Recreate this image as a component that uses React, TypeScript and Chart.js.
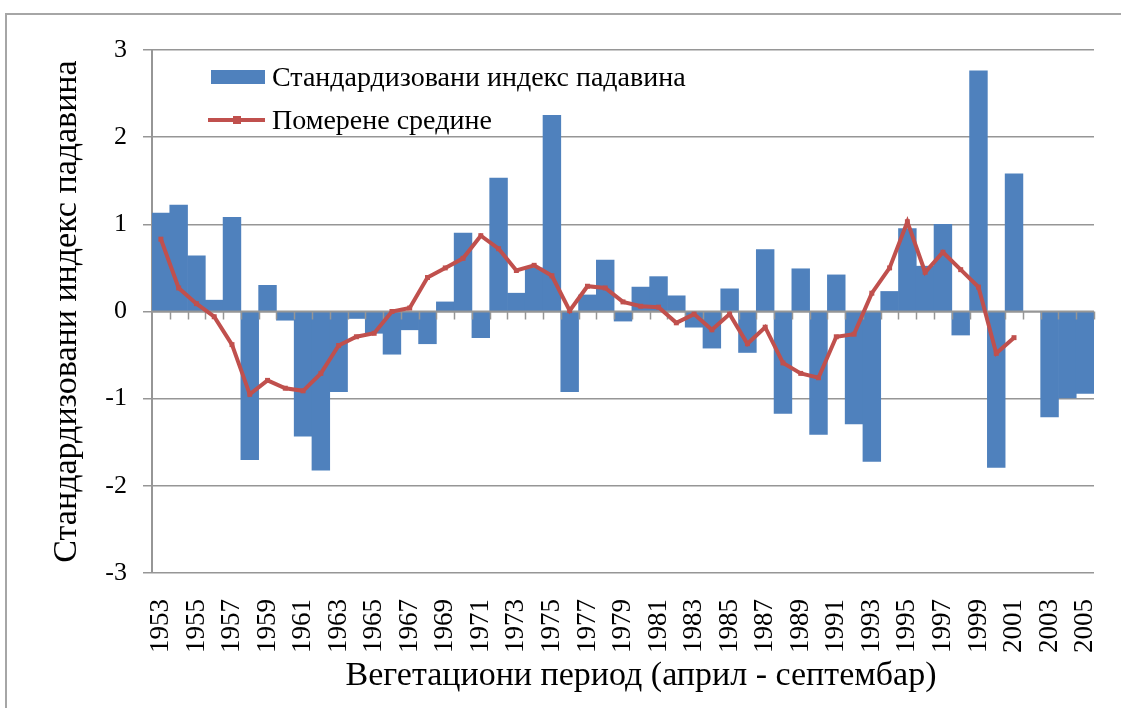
import React, { useEffect, useRef } from "react";
import { Chart, registerables } from "chart.js";

Chart.register(...registerables);

const years: string[] = [
  "1953","1954","1955","1956","1957","1958","1959","1960","1961","1962",
  "1963","1964","1965","1966","1967","1968","1969","1970","1971","1972",
  "1973","1974","1975","1976","1977","1978","1979","1980","1981","1982",
  "1983","1984","1985","1986","1987","1988","1989","1990","1991","1992",
  "1993","1994","1995","1996","1997","1998","1999","2000","2001","2002",
  "2003","2004","2005",
];

const spiValues: (number | null)[] = [
  1.13, 1.22, 0.64, 0.13, 1.08, -1.70, 0.30, -0.10, -1.43, -1.82,
  -0.92, -0.08, -0.25, -0.49, -0.21, -0.37, 0.11, 0.90, -0.30, 1.53,
  0.21, 0.50, 2.25, -0.92, 0.19, 0.59, -0.11, 0.28, 0.40, 0.18,
  -0.18, -0.42, 0.26, -0.47, 0.71, -1.17, 0.49, -1.41, 0.42, -1.29,
  -1.72, 0.23, 0.95, 0.52, 1.00, -0.27, 2.76, -1.79, 1.58, null,
  -1.21, -0.99, -0.94,
];

const movingAvg: (number | null)[] = [
  0.83, 0.27, 0.09, -0.06, -0.38, -0.95, -0.79, -0.88, -0.91, -0.71,
  -0.39, -0.29, -0.25, 0.0, 0.04, 0.39, 0.50, 0.61, 0.87, 0.72,
  0.47, 0.53, 0.41, 0.01, 0.29, 0.27, 0.11, 0.06, 0.05, -0.13,
  -0.03, -0.21, -0.03, -0.37, -0.18, -0.59, -0.71, -0.76, -0.29, -0.26,
  0.21, 0.50, 1.03, 0.45, 0.68, 0.48, 0.28, -0.48, -0.30, null,
  null, null, null,
];

const yTicks: number[] = [-3, -2, -1, 0, 1, 2, 3];

const barLabel = "Стандардизовани индекс падавина";
const lineLabel = "Померене средине";
const yTitle = "Стандардизовани индекс падавина";
const xTitle = "Вегетациони период (април - септембар)";

const FONT = "'Liberation Serif', 'Times New Roman', serif";
const BLUE = "#4f81bd";
const RED = "#c0504d";
const GRID = "#969696";

const zeroAxisPlugin = {
  id: "zeroAxis",
  afterDatasetDraw(chart: any, args: any) {
    const ds = chart.data.datasets[args.index];
    if (ds.type !== "bar") return;
    const { ctx } = chart;
    const xs = chart.scales.x;
    const ys = chart.scales.y;
    const y0 = ys.getPixelForValue(0);
    const n = chart.data.labels.length;
    const step = (xs.right - xs.left) / n;
    ctx.save();
    ctx.strokeStyle = GRID;
    ctx.lineWidth = 2;
    ctx.beginPath();
    ctx.moveTo(xs.left, y0);
    ctx.lineTo(xs.right, y0);
    ctx.stroke();
    ctx.lineWidth = 1.5;
    ctx.beginPath();
    for (let i = 1; i <= n; i++) {
      const px = Math.round(xs.left + i * step) + 0.5;
      ctx.moveTo(px, y0);
      ctx.lineTo(px, y0 + 8);
    }
    ctx.stroke();
    ctx.restore();
  },
};

// x-axis title drawn slightly right of the plot centre, as in the reference
const xTitlePlugin = {
  id: "xTitleShift",
  afterDraw(chart: any) {
    const { ctx } = chart;
    const xs = chart.scales.x;
    ctx.save();
    ctx.font = `34px ${FONT}`;
    ctx.fillStyle = "#000";
    ctx.textAlign = "center";
    ctx.textBaseline = "middle";
    ctx.fillText(xTitle, (xs.left + xs.right) / 2 + 18, xs.bottom - 32);
    ctx.restore();
  },
};

export default function App() {
  const ref = useRef<HTMLCanvasElement | null>(null);

  useEffect(() => {
    if (!ref.current) return;
    const chart = new Chart(ref.current, {
      type: "bar",
      data: {
        labels: years,
        datasets: [
          {
            type: "bar",
            label: barLabel,
            data: spiValues,
            backgroundColor: BLUE,
            borderWidth: 0,
            barPercentage: 1,
            categoryPercentage: 1,
            order: 2,
          } as any,
          {
            type: "line",
            label: lineLabel,
            data: movingAvg,
            borderColor: RED,
            backgroundColor: RED,
            borderWidth: 4,
            pointStyle: "rect",
            pointRadius: 3.5,
            pointBorderWidth: 0,
            tension: 0,
            spanGaps: false,
            order: 1,
          } as any,
        ],
      },
      options: {
        responsive: false,
        animation: false,
        layout: { padding: { left: 0, right: 27, top: 50, bottom: 0 } },
        plugins: {
          legend: { display: false },
          tooltip: { enabled: false },
        },
        scales: {
          x: {
            offset: true,
            grid: { display: false, drawTicks: false },
            border: { display: false },
            ticks: {
              autoSkip: false,
              maxRotation: 90,
              minRotation: 90,
              padding: 26,
              color: "#000",
              font: { family: FONT, size: 27 },
              callback: (_v: any, i: number) => (i % 2 === 0 ? years[i] : ""),
            },
            title: { display: false },
            afterFit: (s: any) => {
              s.height = 135;
              s.paddingLeft = 0;
              s.paddingRight = 0;
            },
          },
          y: {
            min: -3,
            max: 3,
            afterBuildTicks: (s: any) => {
              s.ticks = yTicks.map((v) => ({ value: v }));
            },
            ticks: {
              padding: 16,
              color: "#000",
              font: { family: FONT, size: 26 },
            },
            grid: {
              color: GRID,
              lineWidth: 1.5,
              tickLength: 9,
              drawTicks: true,
            },
            border: { display: true, color: GRID, width: 2 },
            title: {
              display: true,
              text: yTitle,
              color: "#000",
              font: { family: FONT, size: 34, lineHeight: 1.2 },
              padding: { top: 47, bottom: 0 },
            },
            afterFit: (s: any) => {
              s.width = 152;
              s.paddingTop = 0;
              s.paddingBottom = 0;
            },
          },
        },
      } as any,
      plugins: [zeroAxisPlugin, xTitlePlugin],
    });
    return () => chart.destroy();
  }, []);

  return (
    <div
      style={{
        position: "fixed",
        left: 0,
        top: 0,
        width: 1121,
        height: 708,
        overflow: "hidden",
        background: "#fff",
      }}
    >
      <div
        style={{
          position: "absolute",
          left: 5,
          top: 13,
          width: 1300,
          height: 900,
          border: "2px solid #a6a6a6",
        }}
      />
      <canvas
        ref={ref}
        width={1121}
        height={708}
        style={{ position: "absolute", left: 0, top: 0 }}
      />
      <div
        style={{
          position: "absolute",
          left: 211,
          top: 70,
          width: 54,
          height: 14,
          background: BLUE,
        }}
      />
      <div
        style={{
          position: "absolute",
          left: 272,
          top: 77,
          transform: "translateY(-50%)",
          font: `28px ${FONT}`,
          color: "#000",
          whiteSpace: "nowrap",
          lineHeight: 1,
        }}
      >
        {barLabel}
      </div>
      <div
        style={{
          position: "absolute",
          left: 208,
          top: 118,
          width: 57,
          height: 4,
          background: RED,
        }}
      />
      <div
        style={{
          position: "absolute",
          left: 233,
          top: 116,
          width: 8,
          height: 8,
          background: RED,
        }}
      />
      <div
        style={{
          position: "absolute",
          left: 272,
          top: 120,
          transform: "translateY(-50%)",
          font: `28px ${FONT}`,
          color: "#000",
          whiteSpace: "nowrap",
          lineHeight: 1,
        }}
      >
        {lineLabel}
      </div>
    </div>
  );
}
